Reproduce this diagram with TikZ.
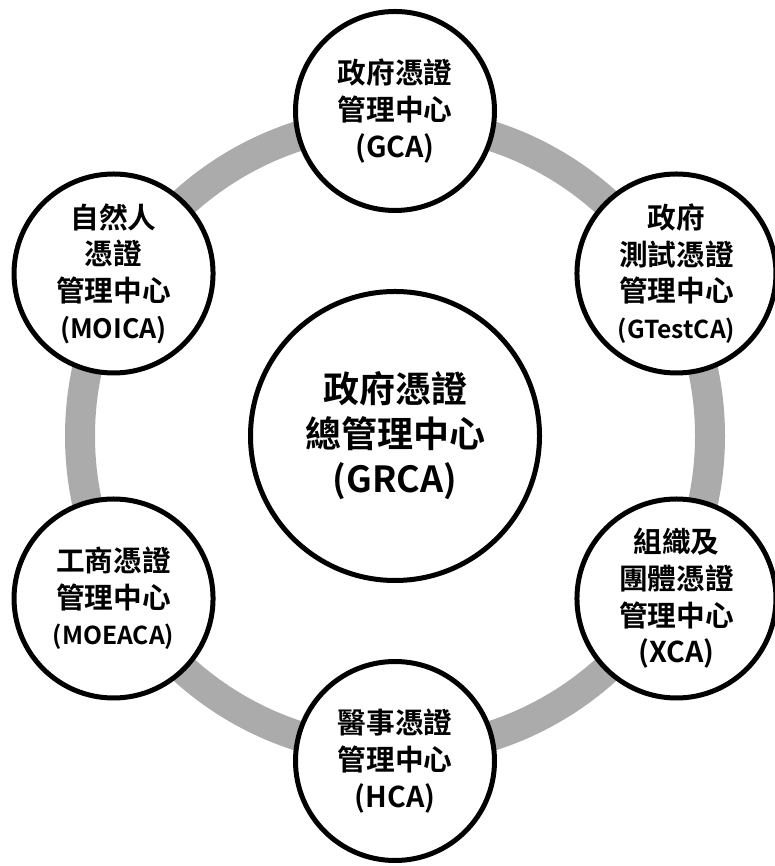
\documentclass[tikz,border=0pt]{standalone}
\usepackage{fontspec}
\newfontfamily\cjk{Noto Sans CJK TC}[BoldFont={Noto Sans CJK TC Bold}]
\usetikzlibrary{calc}
\definecolor{ringgray}{RGB}{171,171,171}
\newcommand\latsm[1]{{\fontsize{18.5pt}{27.5pt}\selectfont #1}}
\tikzset{
  hub/.style={circle,draw=black,line width=3.75pt,fill=white,minimum size=216.75pt,
              inner sep=0pt,align=center,font=\cjk\bfseries\fontsize{27pt}{33.75pt}\selectfont},
  ca/.style ={circle,draw=black,line width=3.75pt,fill=white,minimum size=149.25pt,
              inner sep=0pt,align=center,font=\cjk\bfseries\fontsize{21.5pt}{27.5pt}\selectfont},
  ring/.style={draw=ringgray,line width=22.5pt},
}

\begin{document}
\begin{tikzpicture}[x=0.75pt,y=0.75pt]
  \useasboundingbox (0,0) rectangle (774,866);
  \coordinate (ctr) at (395,430);
  % gray ring behind the CA circles
  \draw[ring] (ctr) circle[radius=315];
  \node[hub] (grca) at (ctr) {政府憑證\\總管理中心\\(GRCA)};
  \node[ca] (gca)    at ($(ctr)+(90:325)$)  {政府憑證\\管理中心\\(GCA)};
  \node[ca] (gtest)  at ($(ctr)+(30:325)$)  {政府\\測試憑證\\管理中心\\\latsm{(GTestCA)}};
  \node[ca] (xca)    at ($(ctr)+(-30:325)$) {組織及\\團體憑證\\管理中心\\(XCA)};
  \node[ca] (hca)    at ($(ctr)+(-90:325)$) {醫事憑證\\管理中心\\(HCA)};
  \node[ca] (moeaca) at ($(ctr)+(210:325)$) {工商憑證\\管理中心\\\latsm{(MOEACA)}};
  \node[ca] (moica)  at ($(ctr)+(150:325)$) {自然人\\憑證\\管理中心\\{\fontsize{20pt}{27.5pt}\selectfont (MOICA)}};
\end{tikzpicture}
\end{document}
